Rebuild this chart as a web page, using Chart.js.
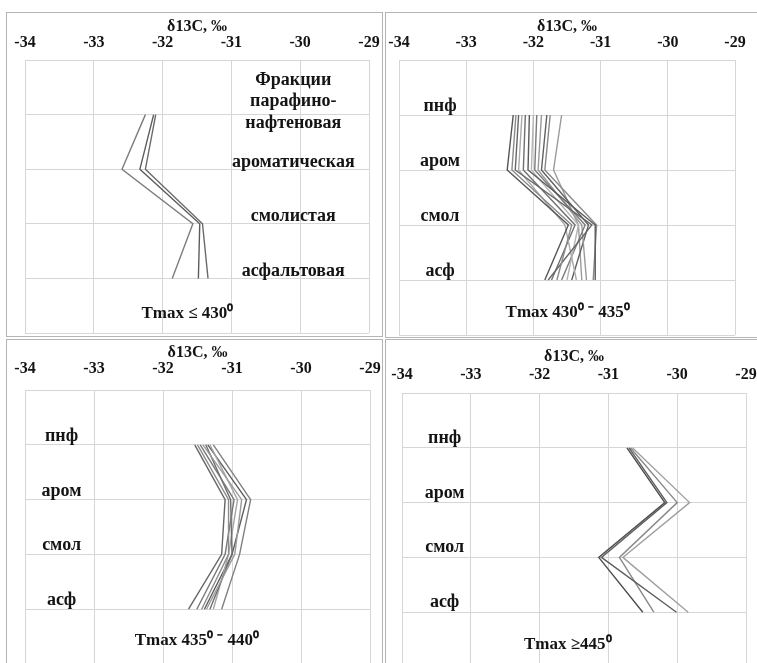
<!DOCTYPE html>
<html>
<head>
<meta charset="utf-8">
<script src="https://cdn.jsdelivr.net/npm/chart.js@4.4.1/dist/chart.umd.min.js"></script>
<style>
  html, body { margin: 0; padding: 0; background: #fff; overflow: hidden; }
  #page { position: relative; width: 757px; height: 663px; overflow: hidden; }
  .panel { position: absolute; border: 1px solid #b4b4b4; background: #fff; }
  .panel canvas { display: block; }
</style>
</head>
<body>
<div id="page">
  <div class="panel" style="left:6px;top:12px;"><canvas id="c1" width="375" height="323"></canvas></div>
  <div class="panel" style="left:385px;top:12px;"><canvas id="c2" width="375" height="324"></canvas></div>
  <div class="panel" style="left:6px;top:339px;"><canvas id="c3" width="375" height="335"></canvas></div>
  <div class="panel" style="left:385px;top:339px;"><canvas id="c4" width="375" height="335"></canvas></div>
</div>
<script>
// fractions, top to bottom
const shortNames = ['пнф', 'аром', 'смол', 'асф'];
const fullNames = ['Фракции', 'парафино-', 'нафтеновая', 'ароматическая', 'смолистая', 'асфальтовая'];
const xTicks = ['-34', '-33', '-32', '-31', '-30', '-29'];
const axisTitle = 'δ13C, ‰';
const tmaxLabels = ['Tmax ≤ 430⁰', 'Tmax 430⁰ ⁻ 435⁰', 'Tmax 435⁰ ⁻ 440⁰', 'Tmax ≥445⁰'];

// δ13C per sample: [пнф, аром, смол, асф]
const tmax430 = [
  [-32.25, -32.59, -31.56, -31.86],
  [-32.13, -32.33, -31.46, -31.48],
  [-32.10, -32.25, -31.42, -31.34]
];
const tmax435 = [
  [-32.30, -32.39, -31.48, -31.83],
  [-32.26, -32.32, -31.43, -31.65],
  [-32.22, -32.27, -31.13, -31.78],
  [-32.17, -32.22, -31.53, -31.36],
  [-32.12, -32.15, -31.38, -31.73],
  [-32.06, -32.08, -31.08, -31.08],
  [-32.00, -32.03, -31.33, -31.50],
  [-31.95, -31.98, -31.23, -31.58],
  [-31.88, -31.93, -31.28, -31.21],
  [-31.80, -31.88, -31.18, -31.43],
  [-31.75, -31.83, -31.06, -31.11],
  [-31.58, -31.70, -31.33, -31.28]
];
const tmax440 = [
  [-31.54, -31.10, -31.15, -31.63],
  [-31.50, -31.05, -31.05, -31.44],
  [-31.46, -30.97, -31.10, -31.51],
  [-31.42, -30.86, -30.96, -31.37],
  [-31.38, -31.02, -31.00, -31.32],
  [-31.32, -30.92, -31.05, -31.27],
  [-31.27, -30.73, -30.89, -31.15],
  [-31.35, -30.79, -31.00, -31.40]
];
const tmax445 = [
  [-30.73, -30.18, -31.14, -30.50],
  [-30.70, -30.15, -31.10, -30.01],
  [-30.68, -30.00, -30.84, -30.34],
  [-30.65, -29.82, -30.79, -29.84]
];

const FONT = '"Liberation Serif", "Times New Roman", serif';
const gridColor = '#d6d6d6';

// text inside the plot area
const notesPlugin = {
  id: 'notes',
  afterDatasetsDraw(chart, args, opts) {
    const { ctx, scales: { x, y } } = chart;
    ctx.save();
    ctx.fillStyle = '#141414';
    ctx.textAlign = 'center';
    ctx.textBaseline = 'alphabetic';
    opts.items.forEach(n => {
      ctx.font = 'bold ' + (n.size || 18) + 'px ' + FONT;
      ctx.fillText(n.text, x.getPixelForValue(n.x), y.getPixelForValue(n.y) + (n.dy || 0));
    });
    ctx.restore();
  }
};

function shortNotes(xPos, dy) {
  return shortNames.map((t, i) => ({ text: t, x: xPos, y: i + 1, dy: dy, size: 18 }));
}

function makePanel(id, series, colors, notes, geo) {
  return new Chart(document.getElementById(id), {
    type: 'line',
    data: {
      datasets: series.map((vals, i) => ({
        data: vals.map((v, j) => ({ x: v, y: j + 1 })),
        borderColor: colors[i % colors.length],
        borderWidth: 1.4,
        pointRadius: 0,
        fill: false,
        tension: 0
      }))
    },
    options: {
      responsive: false,
      animation: false,
      events: [],
      layout: { padding: geo.pad },
      plugins: {
        legend: { display: false },
        tooltip: { enabled: false },
        notes: { items: notes }
      },
      scales: {
        x: {
          type: 'linear',
          position: 'top',
          min: -34,
          max: -29,
          ticks: {
            stepSize: 1,
            padding: 0,
            color: '#141414',
            maxRotation: 0,
            autoSkip: false,
            font: { family: FONT, size: 16, weight: 'bold' },
            callback: (v, i) => xTicks[i]
          },
          grid: { color: gridColor, drawTicks: true, tickLength: geo.tickLen, tickColor: 'rgba(0,0,0,0)' },
          border: { display: false },
          title: {
            display: true,
            text: axisTitle,
            color: '#141414',
            font: { family: FONT, size: 16, weight: 'bold' },
            padding: { top: geo.titlePad, bottom: 0 }
          },
          afterFit: s => { s.height = geo.axisH; }
        },
        y: {
          type: 'linear',
          reverse: true,
          min: 0,
          max: 5,
          ticks: { display: false, stepSize: 1 },
          grid: { color: gridColor, drawTicks: false },
          border: { display: false },
          afterFit: s => { s.width = 0; }
        }
      }
    },
    plugins: [notesPlugin]
  });
}

makePanel('c1', tmax430, ['#7c7c7c', '#5c5c5c', '#6a6a6a'], [
  { text: fullNames[0], x: -30.1, y: 0.46 },
  { text: fullNames[1], x: -30.1, y: 0.84 },
  { text: fullNames[2], x: -30.1, y: 1.245 },
  { text: fullNames[3], x: -30.1, y: 1.96 },
  { text: fullNames[4], x: -30.1, y: 2.95 },
  { text: fullNames[5], x: -30.1, y: 3.96 },
  { text: tmaxLabels[0], x: -31.64, y: 4.73, size: 17 }
], { pad: { left: 18, right: 13, top: 0, bottom: 3 }, axisH: 47, tickLen: 8, titlePad: 4 });

makePanel('c2', tmax435, ['#555', '#8a8a8a', '#666', '#aaa', '#707070', '#5a5a5a', '#b5b5b5', '#7a7a7a', '#999', '#606060', '#888', '#9a9a9a'],
  shortNotes(-33.39, -4).concat([{ text: tmaxLabels[1], x: -31.49, y: 4.67, size: 17 }]),
  { pad: { left: 13, right: 26, top: 0, bottom: 2 }, axisH: 47, tickLen: 8, titlePad: 4 });

makePanel('c3', tmax440, ['#666', '#8c8c8c', '#777', '#9a9a9a', '#6e6e6e', '#a5a5a5', '#808080', '#5f5f5f'],
  shortNotes(-33.47, -4).concat([{ text: tmaxLabels[2], x: -31.51, y: 4.65, size: 17 }]),
  { pad: { left: 18, right: 12, top: 0, bottom: 11 }, axisH: 50, tickLen: 12, titlePad: 3 });

makePanel('c4', tmax445, ['#4e4e4e', '#5e5e5e', '#888', '#a0a0a0'],
  shortNotes(-33.38, -5).concat([{ text: tmaxLabels[3], x: -31.59, y: 4.68, size: 17 }]),
  { pad: { left: 16, right: 15, top: 0, bottom: 8 }, axisH: 53, tickLen: 9, titlePad: 7 });
</script>
</body>
</html>
